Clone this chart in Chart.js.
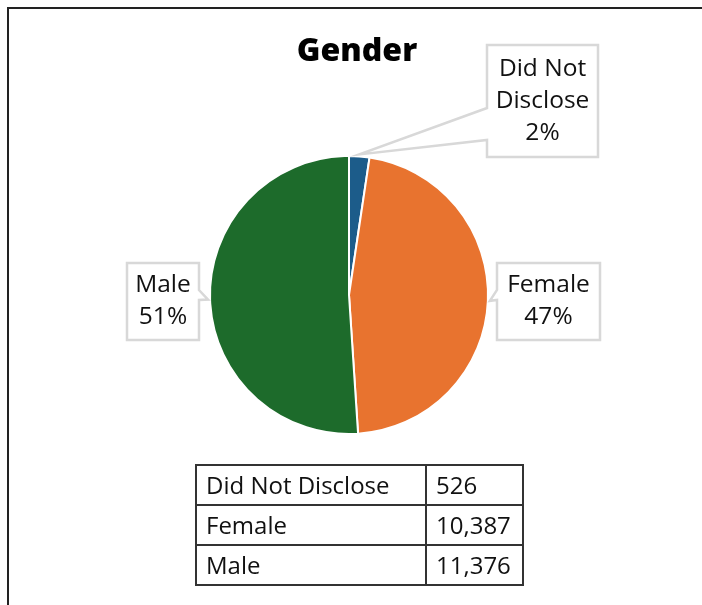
<!DOCTYPE html>
<html>
<head>
<meta charset="utf-8">
<script src="https://cdn.jsdelivr.net/npm/chart.js@4"></script>
<style>
	html, body { margin: 0; padding: 0; background: #fff; }
	body { width: 702px; height: 605px; position: relative; overflow: hidden; font-family: "Open Sans", "Noto Sans", sans-serif; }
	.frame { position: absolute; left: 7px; top: 7px; width: 720px; height: 620px; border: 2px solid #222; box-sizing: border-box; }
	#genderChart { position: absolute; left: 0; top: 0; }
	table.counts { position: absolute; left: 195px; top: 464px; border-collapse: collapse; font-size: 24px; color: #111; }
	table.counts td { border: 2px solid #333; height: 38px; padding: 0 8px 0 9px; line-height: 38px; }
	table.counts td.name { width: 211px; }
	table.counts td.num { width: 78px; }
</style>
</head>
<body>
<div class="frame"></div>
<canvas id="genderChart" width="702" height="605"></canvas>
<table class="counts" id="countTable"></table>
<script>
const categories = ['Did Not Disclose', 'Female', 'Male'];
const counts = [526, 10387, 11376];
const sliceColors = ['#1c5c8a', '#e8732f', '#1d6b2b'];
// callout boxes: left, top, width, height, and which side the pointer leaves from
const callouts = [
	{lines: ['Did Not', 'Disclose'], box: [487, 45, 111, 112], side: 'left', pin: [108, 140]},
	{lines: ['Female'], box: [497, 263, 103, 77], side: 'left', pin: [290, 300]},
	{lines: ['Male'], box: [127, 263, 72, 77], side: 'right', pin: [290, 300]}
];

document.addEventListener('DOMContentLoaded', () => {
	const total = counts.reduce((a, b) => a + b, 0);

	const table = document.getElementById('countTable');
	categories.forEach((c, i) => {
		const tr = document.createElement('tr');
		tr.innerHTML = `<td class="name">${c}</td><td class="num">${counts[i].toLocaleString('en-US')}</td>`;
		table.appendChild(tr);
	});

	const calloutPlugin = {
		id: 'callouts',
		afterDraw(chart) {
			const ctx = chart.ctx;
			ctx.save();
			// title
			ctx.fillStyle = '#000';
			ctx.font = '800 32px "Open Sans"';
			ctx.textAlign = 'center';
			ctx.textBaseline = 'alphabetic';
			ctx.fillText('Gender', 357, 61);

			const arcs = chart.getDatasetMeta(0).data;
			callouts.forEach((co, i) => {
				const arc = arcs[i];
				const mid = (arc.startAngle + arc.endAngle) / 2;
				const tipR = arc.outerRadius + 2;
				const tip = [arc.x + Math.cos(mid) * tipR, arc.y + Math.sin(mid) * tipR];
				const [bx, by, bw, bh] = co.box;
				const edgeX = co.side === 'left' ? bx : bx + bw;

				// box with pointer toward the slice
				ctx.beginPath();
				if (co.side === 'left') {
					ctx.moveTo(bx, by);
					ctx.lineTo(bx + bw, by);
					ctx.lineTo(bx + bw, by + bh);
					ctx.lineTo(bx, by + bh);
				} else {
					ctx.moveTo(bx + bw, by);
					ctx.lineTo(bx, by);
					ctx.lineTo(bx, by + bh);
					ctx.lineTo(bx + bw, by + bh);
				}
				ctx.lineTo(edgeX, co.pin[1]);
				ctx.lineTo(tip[0], tip[1]);
				ctx.lineTo(edgeX, co.pin[0]);
				ctx.closePath();
				ctx.fillStyle = '#fff';
				ctx.fill();
				ctx.strokeStyle = '#d8d8d8';
				ctx.lineWidth = 2.5;
				ctx.stroke();

				const pct = Math.round(counts[i] / total * 100) + '%';
				const lines = co.lines.concat([pct]);
				ctx.fillStyle = '#111';
				ctx.font = '24.5px "Open Sans"';
				ctx.textAlign = 'center';
				ctx.textBaseline = 'middle';
				const cx = bx + bw / 2;
				const lineH = 32;
				const y0 = by + bh / 2 - (lines.length - 1) * lineH / 2;
				lines.forEach((t, k) => ctx.fillText(t, cx, y0 + k * lineH));
			});
			ctx.restore();
		}
	};

	new Chart(document.getElementById('genderChart'), {
		type: 'pie',
		data: {
			labels: categories,
			datasets: [{
				data: counts,
				backgroundColor: sliceColors,
				borderColor: '#fff',
				borderWidth: 2
			}]
		},
		options: {
			responsive: false,
			animation: false,
			events: [],
			layout: {padding: {left: 209, right: 213, top: 155, bottom: 170}},
			plugins: {legend: {display: false}, tooltip: {enabled: false}, title: {display: false}}
		},
		plugins: [calloutPlugin]
	});
});
</script>
</body>
</html>
